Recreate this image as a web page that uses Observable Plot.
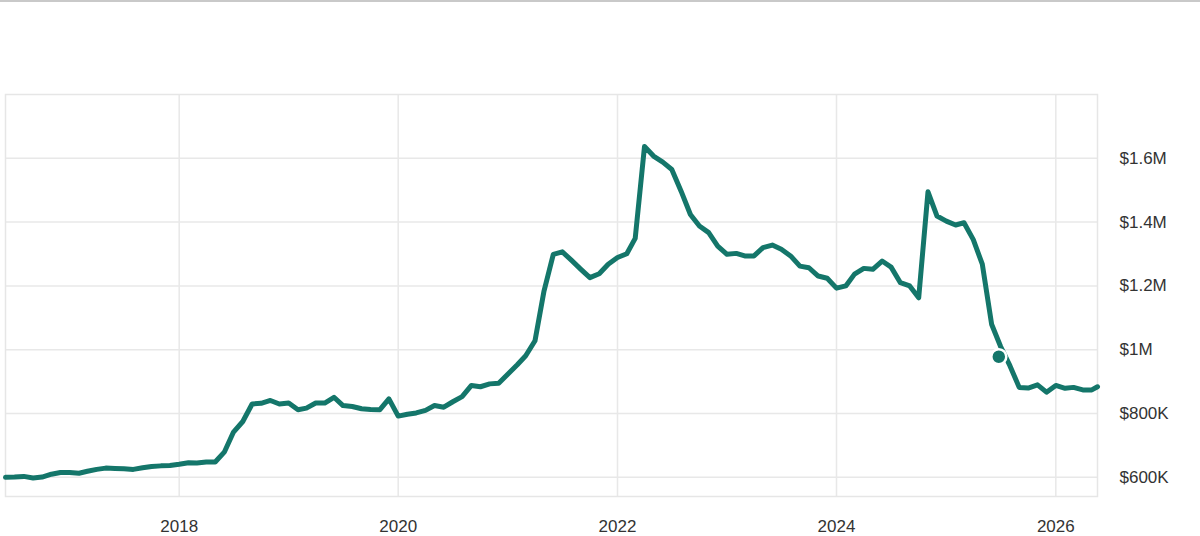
<!DOCTYPE html>
<html><head><meta charset="utf-8">
<script src="https://cdn.jsdelivr.net/npm/d3@7"></script>
<script src="https://cdn.jsdelivr.net/npm/@observablehq/plot@0.6"></script>
<style>
html,body{margin:0;padding:0;background:#fff;}
#wrap{position:relative;width:1200px;height:536px;overflow:hidden;}
#topline{position:absolute;left:0;top:0;width:1200px;height:2px;background:#c9c9c9;}
</style></head><body><div id="wrap"><div id="topline"></div><div id="chart"></div></div>
<script>
// Monthly values (in $K), starting June 2016
const monthlyStart = "2016-06-01";
const monthlyValuesK = [
  600, 601, 603, 598, 601, 610, 615, 615, 613, 619, 625, 629,
  628, 627, 625, 630, 634, 636, 637, 641, 646, 645, 648, 648,
  680, 742, 775, 830, 832, 841, 830, 833, 812, 817, 833, 833,
  851, 825, 822, 815, 813, 812, 846, 792, 798, 802, 810, 825,
  820, 837, 853, 888, 884, 893, 895, 924, 953, 981, 1028, 1184,
  1299, 1307, 1280, 1252, 1226, 1238, 1268, 1289, 1301, 1349, 1637, 1607,
  1588, 1565, 1497, 1424, 1388, 1367, 1325, 1299, 1302, 1294, 1294, 1320,
  1328, 1315, 1294, 1262, 1257, 1231, 1224, 1193, 1200, 1237, 1255, 1252,
  1278, 1259, 1210, 1200, 1163, 1495, 1419, 1403, 1391, 1398, 1345, 1268,
  1080, 1010, 950, 882, 880, 890, 867, 888, 879, 882, 874, 874
];
const latestDate = "2026-05-20";
const latestValueK = 884;

// Highlighted point
const markerDate = "2025-06-25";
const markerValueK = 978;

// Axis ticks
const yearTicks = [2018, 2020, 2022, 2024, 2026];
const yTickValues = [600000, 800000, 1000000, 1200000, 1400000, 1600000];
const xDomain = ["2016-06-01", "2026-05-20"];
const yDomain = [540000, 1800000];

const start = new Date(monthlyStart + "T00:00:00Z");
const series = monthlyValuesK.map((v, i) => ({date: d3.utcMonth.offset(start, i), value: v * 1000}));
series.push({date: new Date(latestDate + "T00:00:00Z"), value: latestValueK * 1000});
const marker = [{date: new Date(markerDate + "T00:00:00Z"), value: markerValueK * 1000}];
const xTicks = yearTicks.map(y => new Date(Date.UTC(y, 0, 1)));
const fmt = v => v >= 1e6 ? "$" + (v / 1e6) + "M" : "$" + (v / 1e3) + "K";
const green = "#14766a";

const chart = Plot.plot({
  width: 1200, height: 536,
  marginTop: 94, marginBottom: 40, marginLeft: 5, marginRight: 103,
  style: {fontFamily: "'Liberation Sans', Arial, sans-serif", fontSize: "17px", color: "#333", background: "transparent"},
  x: {type: "utc", domain: xDomain.map(d => new Date(d + "T00:00:00Z")), label: null},
  y: {domain: yDomain, label: null},
  marks: [
    Plot.gridX(xTicks, {stroke: "#e8e8e8", strokeOpacity: 1, strokeWidth: 1.5}),
    Plot.gridY(yTickValues, {stroke: "#e8e8e8", strokeOpacity: 1, strokeWidth: 1.5}),
    Plot.frame({stroke: "#e6e6e6", strokeWidth: 1.5}),
    Plot.axisX(xTicks, {tickSize: 0, tickPadding: 23, tickFormat: d3.utcFormat("%Y"), fill: "#333", label: null}),
    Plot.axisY(yTickValues, {anchor: "right", tickSize: 0, tickPadding: 22, tickFormat: fmt, fill: "#333", label: null}),
    Plot.line(series, {x: "date", y: "value", stroke: green, strokeWidth: 5, strokeLinejoin: "round", strokeLinecap: "round"}),
    Plot.dot(marker, {x: "date", y: "value", r: 7.5, fill: green, stroke: "white", strokeWidth: 2.5})
  ]
});
document.getElementById("chart").appendChild(chart);
</script>
</body></html>
